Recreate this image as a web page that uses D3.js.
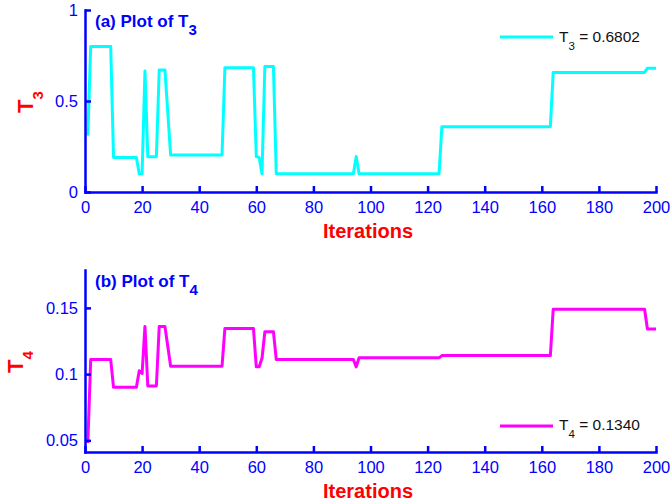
<!DOCTYPE html>
<html>
<head>
<meta charset="utf-8">
<script src="https://cdn.jsdelivr.net/npm/d3@7"></script>
<style>
  html, body { margin: 0; padding: 0; background: #fff; }
  svg { display: block; font-family: "Liberation Sans", Arial, sans-serif; }
</style>
</head>
<body>
<div id="chart"></div>
<script>
// iteration breakpoints (values are flat between them)
const ITERATIONS = [1, 2, 9, 10, 18, 19, 20, 21, 22, 25, 26, 28, 30, 48, 49, 59, 60, 61, 62, 63, 66, 67, 94, 95, 96, 124, 125, 163, 164, 196, 197, 200];

const T3_VALUES = [0.31, 0.80, 0.80, 0.19, 0.19, 0.10, 0.10, 0.665, 0.194, 0.194, 0.67, 0.67, 0.203, 0.203, 0.683, 0.683, 0.195, 0.19, 0.10, 0.69, 0.69, 0.10, 0.10, 0.195, 0.10, 0.10, 0.359, 0.359, 0.657, 0.657, 0.6802, 0.6802];

const T4_VALUES = [0.048, 0.111, 0.111, 0.090, 0.090, 0.1025, 0.1005, 0.136, 0.091, 0.091, 0.136, 0.136, 0.106, 0.106, 0.1345, 0.1345, 0.1055, 0.1055, 0.112, 0.132, 0.132, 0.111, 0.111, 0.1055, 0.1123, 0.1123, 0.114, 0.114, 0.149, 0.149, 0.134, 0.134];

const X_TICKS = [0, 20, 40, 60, 80, 100, 120, 140, 160, 180, 200];
const T3_TICKS = [0, 0.5, 1];
const T4_TICKS = [0.05, 0.1, 0.15];

const T3_LEGEND = "0.6802";
const T4_LEGEND = "0.1340";

const W = 671, H = 502;
const AXIS_BLUE = "#0000ff";

const panels = [
  {
    values: T3_VALUES, color: "#00ffff", letter: "a", sub: "3",
    yDomain: [0, 1], yTicks: T3_TICKS,
    top: 10, bottom: 192,
    legendY: 37, legendTextY: 42,
    yLabelPos: [33, 113]
  },
  {
    values: T4_VALUES, color: "#ff00ff", letter: "b", sub: "4",
    yDomain: [0.0412, 0.1786], yTicks: T4_TICKS,
    top: 270, bottom: 452,
    legendY: 426, legendTextY: 430,
    yLabelPos: [23, 373]
  }
];
panels[0].legendVal = T3_LEGEND;
panels[1].legendVal = T4_LEGEND;

const xLeft = 85, xRight = 656;

const svg = d3.select("#chart").append("svg")
  .attr("width", W)
  .attr("height", H);

function styleAxis(g) {
  g.select(".domain")
    .attr("stroke", AXIS_BLUE)
    .attr("stroke-width", 2.5)
    .attr("stroke-linecap", "square");
  g.selectAll(".tick line")
    .attr("stroke", AXIS_BLUE)
    .attr("stroke-width", 2.5);
  g.selectAll(".tick text")
    .attr("fill", AXIS_BLUE)
    .attr("font-size", 16.5);
}

function drawPanel(p) {
  const x = d3.scaleLinear().domain([0, 200]).range([xLeft, xRight]);
  const y = d3.scaleLinear().domain(p.yDomain).range([p.bottom, p.top]);

  // data line
  const line = d3.line()
    .x((d, i) => x(ITERATIONS[i]))
    .y(d => y(d));

  svg.append("path")
    .attr("d", line(p.values))
    .attr("fill", "none")
    .attr("stroke", p.color)
    .attr("stroke-width", 3)
    .attr("stroke-linejoin", "round");

  // axes (ticks pointing inward)
  svg.append("g")
    .attr("transform", `translate(0,${p.bottom})`)
    .call(d3.axisBottom(x).tickValues(X_TICKS).tickSize(-6).tickSizeOuter(0).tickPadding(9).tickFormat(d => String(d)))
    .call(styleAxis);

  svg.append("g")
    .attr("transform", `translate(${xLeft},0)`)
    .call(d3.axisLeft(y).tickValues(p.yTicks).tickSize(-6).tickSizeOuter(0).tickPadding(7).tickFormat(d => String(d)))
    .call(styleAxis);

  // panel title
  const title = svg.append("text")
    .attr("x", 95)
    .attr("y", p.top + 17)
    .attr("fill", AXIS_BLUE)
    .attr("font-weight", "bold")
    .attr("font-size", 17);
  title.append("tspan").text(`(${p.letter}) Plot of T`);
  title.append("tspan").attr("dy", 8).attr("font-size", 15).text(p.sub);

  // x label
  svg.append("text")
    .attr("x", 368)
    .attr("y", p.bottom + 46)
    .attr("text-anchor", "middle")
    .attr("fill", "#ff0000")
    .attr("font-weight", "bold")
    .attr("font-size", 20)
    .text("Iterations");

  // y label
  const yl = svg.append("text")
    .attr("transform", `translate(${p.yLabelPos[0]},${p.yLabelPos[1]}) rotate(-90)`)
    .attr("fill", "#ff0000")
    .attr("font-weight", "bold")
    .attr("font-size", 22);
  yl.append("tspan").text("T");
  yl.append("tspan").attr("dy", 10).attr("font-size", 15).text(p.sub);

  // legend
  svg.append("line")
    .attr("x1", 500).attr("x2", 553)
    .attr("y1", p.legendY).attr("y2", p.legendY)
    .attr("stroke", p.color)
    .attr("stroke-width", 3);

  const lt = svg.append("text")
    .attr("x", 559)
    .attr("y", p.legendTextY)
    .attr("fill", "#111")
    .attr("font-size", 15.5);
  lt.append("tspan").text("T");
  lt.append("tspan").attr("dy", 8).attr("font-size", 11.5).text(p.sub);
  lt.append("tspan").attr("dy", -8).text(` = ${p.legendVal}`);
}

panels.forEach(drawPanel);
</script>
</body>
</html>
